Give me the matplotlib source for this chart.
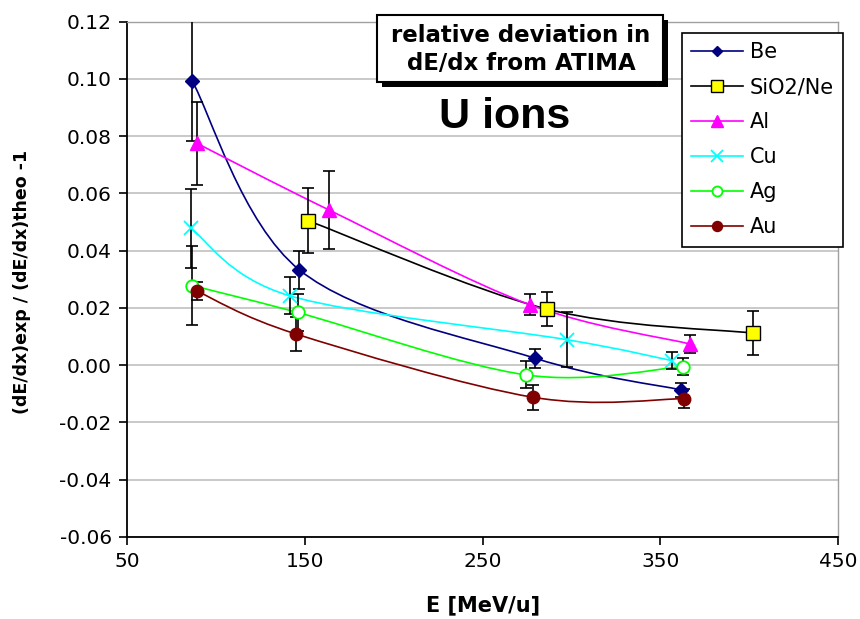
import numpy as np
import matplotlib
matplotlib.use("Agg")
import matplotlib.pyplot as plt
from matplotlib.path import Path
from matplotlib.patches import PathPatch, Rectangle
from matplotlib.lines import Line2D

# Datos: E [MeV/u], desviacion relativa y error
e_be = [86.7, 146.9, 279.7, 361.5]
dev_be = [0.0992, 0.0333, 0.0024, -0.0086]
err_be = [0.021, 0.0067, 0.0034, 0.0025]

e_sio2 = [151.7, 286.1, 402.0]
dev_sio2 = [0.0505, 0.0196, 0.0112]
err_sio2 = [0.0112, 0.0059, 0.0077]

e_al = [89.2, 163.6, 276.7, 366.7]
dev_al = [0.0775, 0.0542, 0.0211, 0.0074]
err_al = [0.0145, 0.0135, 0.0036, 0.0032]

e_cu = [85.8, 141.7, 297.4, 356.4]
dev_cu = [0.0478, 0.0242, 0.0089, 0.0016]
err_cu = [0.0137, 0.0065, 0.0095, 0.0030]

e_ag = [86.7, 146.0, 274.5, 363.0]
dev_ag = [0.0278, 0.0184, -0.0034, -0.0005]
err_ag = [0.0138, 0.0065, 0.0047, 0.0030]

e_au = [89.2, 145.0, 278.3, 363.6]
dev_au = [0.0259, 0.0109, -0.0112, -0.0117]
err_au = [0.0030, 0.0060, 0.0043, 0.0033]

x_ticks = [50, 150, 250, 350, 450]
y_ticks = [-0.06, -0.04, -0.02, 0.00, 0.02, 0.04, 0.06, 0.08, 0.10, 0.12]


#####################################
# curva_suave: camino Bezier tipo "linea suavizada" de Excel
#####################################
def curva_suave(x, y):
    pts = np.column_stack([x, y])
    n = len(pts)
    verts = [pts[0]]
    codes = [Path.MOVETO]
    for i in range(n - 1):
        p0 = pts[max(i - 1, 0)]
        p1 = pts[i]
        p2 = pts[i + 1]
        p3 = pts[min(i + 2, n - 1)]
        verts += [p1 + (p2 - p0) / 6, p2 - (p3 - p1) / 6, p2]
        codes += [Path.CURVE4] * 3
    return Path(verts, codes)


def main():
    W, H = 860, 619
    fig = plt.figure(figsize=(W / 100, H / 100), dpi=100)
    ax = fig.add_axes([127 / W, 1 - 537 / H, 711 / W, (537 - 21.5) / H])

    series = [
        ("Be", e_be, dev_be, err_be, "#000080",
         dict(marker="D", ms=7, mfc="#000080", mec="#000080")),
        ("SiO2/Ne", e_sio2, dev_sio2, err_sio2, "#000000",
         dict(marker="s", ms=10, mfc="#ffff00", mec="#000000", mew=1.0)),
        ("Al", e_al, dev_al, err_al, "#ff00ff",
         dict(marker="^", ms=10, mfc="#ff00ff", mec="#ff00ff")),
        ("Cu", e_cu, dev_cu, err_cu, "#00ffff",
         dict(marker="x", ms=10, mec="#00ffff", mew=1.3)),
        ("Ag", e_ag, dev_ag, err_ag, "#00ff00",
         dict(marker="o", ms=9, mfc="white", mec="#00ff00", mew=1.3)),
        ("Au", e_au, dev_au, err_au, "#800000",
         dict(marker="o", ms=9, mfc="#800000", mec="#800000")),
    ]

    handles = []
    for nombre, ex, dev, err, color, mk in series:
        ax.add_patch(PathPatch(curva_suave(ex, dev), fill=False,
                               edgecolor=color, lw=1.2, zorder=3))
        ax.errorbar(ex, dev, yerr=err, fmt="none", ecolor="black",
                    elinewidth=1.2, capsize=4.5, capthick=1.2, zorder=4)
        ax.plot(ex, dev, ls="none", zorder=5, **mk)
        mk_leyenda = dict(mk)
        mk_leyenda["ms"] = mk["ms"] * 0.8
        handles.append(Line2D([0], [0], color=color, lw=1.2, **mk_leyenda))

    ax.set_xlim(50, 450)
    ax.set_ylim(-0.06, 0.12)
    ax.set_xticks(x_ticks)
    ax.set_yticks(y_ticks)
    ax.set_yticklabels([f"{v:.2f}" for v in y_ticks])
    ax.grid(axis="y", color="#c0c0c0", lw=1.2)
    ax.set_axisbelow(True)
    ax.tick_params(direction="out", length=6, width=1.2, labelsize=14.5,
                   colors="black", pad=5)
    for lado in ["left", "bottom"]:
        ax.spines[lado].set_color("black")
        ax.spines[lado].set_linewidth(1.3)
    for lado in ["top", "right"]:
        ax.spines[lado].set_color("#a0a0a0")
        ax.spines[lado].set_linewidth(1.0)

    fig.text(22 / W, 1 - 282 / H, "(dE/dx)exp / (dE/dx)theo -1",
             rotation=90, ha="center", va="center", fontsize=12.5,
             fontweight="bold")
    fig.text(483 / W, 1 - 605 / H, "E [MeV/u]", ha="center", va="center",
             fontsize=15, fontweight="bold")

    # Caja de titulo con sombra
    fig.patches.append(Rectangle((382 / W, 1 - 87 / H), 286 / W, 67 / H,
                                 transform=fig.transFigure,
                                 facecolor="black", edgecolor="none",
                                 zorder=10))
    fig.patches.append(Rectangle((377 / W, 1 - 82 / H), 286 / W, 67 / H,
                                 transform=fig.transFigure,
                                 facecolor="white", edgecolor="black",
                                 lw=1.5, zorder=11))
    fig.text(521 / W, 1 - 36 / H, "relative deviation in", ha="center",
             va="center", fontsize=16.5, fontweight="bold", zorder=12)
    fig.text(521 / W, 1 - 63 / H, "dE/dx from ATIMA", ha="center",
             va="center", fontsize=16.5, fontweight="bold", zorder=12)
    fig.text(505 / W, 1 - 117 / H, "U ions", ha="center", va="center",
             fontsize=31, fontweight="bold", family="Liberation Sans",
             zorder=12)

    leg = fig.legend(handles, [s[0] for s in series], loc="upper left",
                     bbox_to_anchor=(682 / W, 1 - 33 / H),
                     bbox_transform=fig.transFigure, borderaxespad=0,
                     fontsize=15, numpoints=1, handlelength=2.5,
                     handletextpad=0.3, labelspacing=0.72, borderpad=0.45,
                     fancybox=False, framealpha=1, edgecolor="black")
    leg.get_frame().set_linewidth(1.2)
    leg.set_zorder(12)

    fig.savefig("out.png", dpi=100)


if __name__ == '__main__':
    main()
